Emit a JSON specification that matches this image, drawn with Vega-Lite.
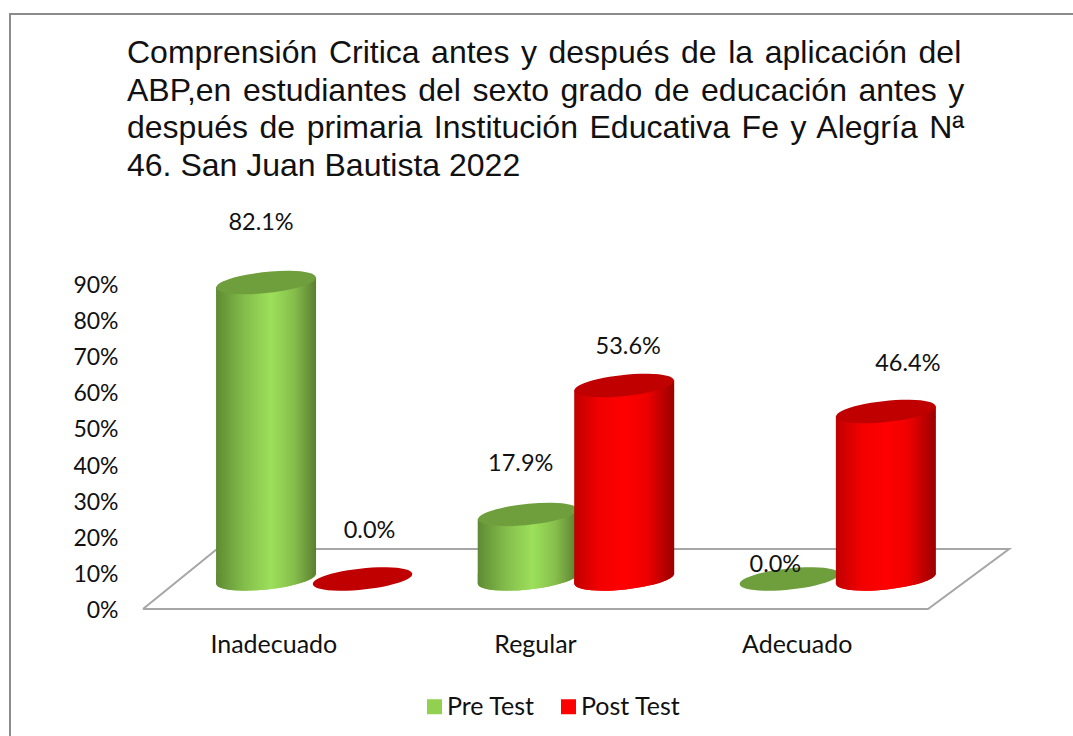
{
"$schema":"https://vega.github.io/schema/vega-lite/v6.json",
"autosize":"none","width":785,"height":325,
"padding":{"left":143,"top":284,"right":145,"bottom":127},
"background":"white",
"config":{"view":{"stroke":null},"font":"Lato"},
"title":{"text":["Comprensión\u200a Critica\u200a antes\u200a y\u200a después\u200a de\u200a la\u200a aplicación\u200a del","ABP,en\u200a estudiantes\u200a del\u200a sexto\u200a grado\u200a de\u200a educación\u200a antes\u200a y","después\u200a de\u200a primaria\u200a Institución\u200a Educativa\u200a Fe\u200a y\u200a Alegría\u200a Nª","46. San Juan Bautista 2022"],"anchor":"start","frame":"group","dx":-16,"offset":-172.5,"font":"Liberation Sans","fontSize":32,"fontWeight":"normal","lineHeight":37.5,"color":"#111111"},
"datasets":{
"valores":[
{"categoria":"Inadecuado","serie":"Pre Test","valor":82.1,"etiqueta":"82.1%"},
{"categoria":"Inadecuado","serie":"Post Test","valor":0.0,"etiqueta":"0.0%"},
{"categoria":"Regular","serie":"Pre Test","valor":17.9,"etiqueta":"17.9%"},
{"categoria":"Regular","serie":"Post Test","valor":53.6,"etiqueta":"53.6%"},
{"categoria":"Adecuado","serie":"Pre Test","valor":0.0,"etiqueta":"0.0%"},
{"categoria":"Adecuado","serie":"Post Test","valor":46.4,"etiqueta":"46.4%"}],
"piso":[{"px":0,"py":0,"o":1},{"px":3,"py":0,"o":2},{"px":3.31,"py":16.6,"o":3},{"px":0.283,"py":16.6,"o":4},{"px":0,"py":0,"o":5}],
"marco":[{"fx":0,"fy":0,"o":1},{"fx":0,"fy":1,"o":2},{"fx":1,"fy":1,"o":3}]
},
"layer":[
{"data":{"name":"marco"},"mark":{"type":"line","color":"#8c8c8c","strokeWidth":2,"clip":false},
 "encoding":{"x":{"field":"fx","type":"quantitative","axis":null,"scale":{"domain":[0,1],"range":[-133,930]}},
 "y":{"field":"fy","type":"quantitative","axis":null,"scale":{"domain":[0,1],"range":[452,-270]}},"order":{"field":"o"}}},
{"data":{"name":"piso"},"mark":{"type":"line","color":"#a6a6a6","strokeWidth":2,"clip":false},
 "encoding":{"x":{"field":"px","type":"quantitative","axis":null,"scale":{"domain":[0,3],"range":[0,785]}},
 "y":{"field":"py","type":"quantitative","scale":{"domain":[0,90],"nice":false},
  "axis":{"orient":"left","values":[0,10,20,30,40,50,60,70,80,90],"title":null,"grid":false,"domain":false,"ticks":false,"labelExpr":"datum.value+'%'","labelFont":"Lato","labelFontSize":23,"labelColor":"#111111","labelPadding":25,"labelOffset":1.5}},
 "order":{"field":"o"}}},
{"data":{"name":"valores"},"mark":{"type":"text","text":" "},
 "encoding":{"x":{"field":"categoria","type":"nominal","sort":["Inadecuado","Regular","Adecuado"],"scale":{"type":"band","paddingInner":0,"paddingOuter":0},
  "axis":{"orient":"bottom","title":null,"domain":false,"ticks":false,"labelAngle":0,"labelFont":"Lato","labelFontSize":25,"labelColor":"#111111","labelPadding":23}}}},
{"data":{"name":"valores"},
 "encoding":{
  "x":{"field":"categoria","type":"nominal","sort":["Inadecuado","Regular","Adecuado"],"axis":null,"scale":{"type":"band","domain":["Inadecuado","Regular","Adecuado"],"paddingInner":0,"paddingOuter":0,"range":[40,825]}},
  "xOffset":{"field":"serie","type":"nominal","sort":["Pre Test","Post Test"],"scale":{"domain":["Pre Test","Post Test"],"range":[34.8,227.8]}},
  "y":{"field":"valor","type":"quantitative","axis":null,"scale":{"domain":[-8.3,81.7],"nice":false,"zero":false}}
 },
 "layer":[
  {"transform":[{"filter":"datum.valor>0"}],"mark":{"type":"point","filled":true,"opacity":1,"size":10000,"clip":false,"shape":"M-1,-0.1045 L1,-0.1045 L0.9945,-0.1045 A1,0.21 -6 0 1 -0.9945,0.1045 L-1,0.1045 Z"},
   "encoding":{"y":{"datum":0,"type":"quantitative","axis":null,"scale":{"domain":[-8.3,81.7],"nice":false,"zero":false}},
   "color":{"field":"serie","type":"nominal","scale":{"domain":["Pre Test","Post Test"],"range":["#92D050","#FF0000"]},
    "legend":{"orient":"none","legendX":279,"legendY":410,"direction":"horizontal","title":null,"symbolType":"square","symbolSize":225,"symbolOpacity":1,"labelFont":"Lato","labelFontSize":25,"labelColor":"#111111","columnPadding":21,"labelOffset":0}}}},
  {"transform":[{"filter":"datum.serie==='Pre Test'"}],
   "layer":[
    {"transform":[{"filter":"datum.valor>0"}],"mark":{"type":"point","filled":true,"opacity":1,"size":10000,"clip":false,"shape":"M-1,-0.1045 L1,-0.1045 L0.9945,-0.1045 A1,0.21 -6 0 1 -0.9945,0.1045 L-1,0.1045 Z","fill":{"gradient":"linear","x1":0,"y1":0,"x2":1,"y2":0,"stops":[{"offset":0,"color":"#5E8A33"},{"offset":0.28,"color":"#83BD4B"},{"offset":0.55,"color":"#9CE05B"},{"offset":0.78,"color":"#86BE4C"},{"offset":1,"color":"#5A7F30"}]}},
     "encoding":{"y":{"datum":0,"type":"quantitative","axis":null,"scale":{"domain":[-8.3,81.7],"nice":false,"zero":false}}}},
    {"transform":[{"filter":"datum.valor>0"}],"mark":{"type":"bar","width":100,"clip":false,"yOffset":4.5,"y2Offset":-4.5,"fill":{"gradient":"linear","x1":0,"y1":0,"x2":1,"y2":0,"stops":[{"offset":0,"color":"#5E8A33"},{"offset":0.28,"color":"#83BD4B"},{"offset":0.55,"color":"#9CE05B"},{"offset":0.78,"color":"#86BE4C"},{"offset":1,"color":"#5A7F30"}]}},
     "encoding":{"y2":{"datum":0}}},
    {"transform":[{"filter":"datum.valor>0"}],"mark":{"type":"point","filled":true,"opacity":1,"size":10000,"clip":false,"shape":"M-1,0.1045 L1,-0.1045 L1,0.1045 Z","fill":{"gradient":"linear","x1":0,"y1":0,"x2":1,"y2":0,"stops":[{"offset":0,"color":"#5E8A33"},{"offset":0.28,"color":"#83BD4B"},{"offset":0.55,"color":"#9CE05B"},{"offset":0.78,"color":"#86BE4C"},{"offset":1,"color":"#5A7F30"}]}}},
    {"mark":{"type":"point","filled":true,"opacity":1,"size":10000,"clip":false,"fill":"#6F9F3C","shape":"M-0.9945,0.1045 A1,0.21 -6 1 1 0.9945,-0.1045 A1,0.21 -6 1 1 -0.9945,0.1045 Z"}}
   ]},
  {"transform":[{"filter":"datum.serie==='Post Test'"}],
   "layer":[
    {"transform":[{"filter":"datum.valor>0"}],"mark":{"type":"point","filled":true,"opacity":1,"size":10000,"clip":false,"shape":"M-1,-0.1045 L1,-0.1045 L0.9945,-0.1045 A1,0.21 -6 0 1 -0.9945,0.1045 L-1,0.1045 Z","fill":{"gradient":"linear","x1":0,"y1":0,"x2":1,"y2":0,"stops":[{"offset":0,"color":"#C00000"},{"offset":0.25,"color":"#F20000"},{"offset":0.5,"color":"#FF0000"},{"offset":0.72,"color":"#F00000"},{"offset":1,"color":"#9A0000"}]}},
     "encoding":{"y":{"datum":0,"type":"quantitative","axis":null,"scale":{"domain":[-8.3,81.7],"nice":false,"zero":false}}}},
    {"transform":[{"filter":"datum.valor>0"}],"mark":{"type":"bar","width":100,"clip":false,"yOffset":4.5,"y2Offset":-4.5,"fill":{"gradient":"linear","x1":0,"y1":0,"x2":1,"y2":0,"stops":[{"offset":0,"color":"#C00000"},{"offset":0.25,"color":"#F20000"},{"offset":0.5,"color":"#FF0000"},{"offset":0.72,"color":"#F00000"},{"offset":1,"color":"#9A0000"}]}},
     "encoding":{"y2":{"datum":0}}},
    {"transform":[{"filter":"datum.valor>0"}],"mark":{"type":"point","filled":true,"opacity":1,"size":10000,"clip":false,"shape":"M-1,0.1045 L1,-0.1045 L1,0.1045 Z","fill":{"gradient":"linear","x1":0,"y1":0,"x2":1,"y2":0,"stops":[{"offset":0,"color":"#C00000"},{"offset":0.25,"color":"#F20000"},{"offset":0.5,"color":"#FF0000"},{"offset":0.72,"color":"#F00000"},{"offset":1,"color":"#9A0000"}]}}},
    {"mark":{"type":"point","filled":true,"opacity":1,"size":10000,"clip":false,"fill":"#C00000","shape":"M-0.9945,0.1045 A1,0.21 -6 1 1 0.9945,-0.1045 A1,0.21 -6 1 1 -0.9945,0.1045 Z"}}
   ]},
  {"transform":[{"filter":"datum.categoria==='Inadecuado'&&datum.serie==='Pre Test'"}],"mark":{"type":"text","fontSize":23.5,"font":"Lato","color":"#111111","dx":-5,"dy":-60,"clip":false},"encoding":{"text":{"field":"etiqueta"}}},
  {"transform":[{"filter":"datum.categoria==='Inadecuado'&&datum.serie==='Post Test'"}],"mark":{"type":"text","fontSize":23.5,"font":"Lato","color":"#111111","dx":7,"dy":-48,"clip":false},"encoding":{"text":{"field":"etiqueta"}}},
  {"transform":[{"filter":"datum.categoria==='Regular'&&datum.serie==='Pre Test'"}],"mark":{"type":"text","fontSize":23.5,"font":"Lato","color":"#111111","dx":-7,"dy":-50,"clip":false},"encoding":{"text":{"field":"etiqueta"}}},
  {"transform":[{"filter":"datum.categoria==='Regular'&&datum.serie==='Post Test'"}],"mark":{"type":"text","fontSize":23.5,"font":"Lato","color":"#111111","dx":4,"dy":-38,"clip":false},"encoding":{"text":{"field":"etiqueta"}}},
  {"transform":[{"filter":"datum.categoria==='Adecuado'&&datum.serie==='Pre Test'"}],"mark":{"type":"text","fontSize":23.5,"font":"Lato","color":"#111111","dx":-14,"dy":-14,"clip":false},"encoding":{"text":{"field":"etiqueta"}}},
  {"transform":[{"filter":"datum.categoria==='Adecuado'&&datum.serie==='Post Test'"}],"mark":{"type":"text","fontSize":23.5,"font":"Lato","color":"#111111","dx":22,"dy":-47,"clip":false},"encoding":{"text":{"field":"etiqueta"}}}
 ]
}
],
"resolve":{"scale":{"x":"independent","y":"independent"},"axis":{"x":"independent","y":"independent"}}
}
